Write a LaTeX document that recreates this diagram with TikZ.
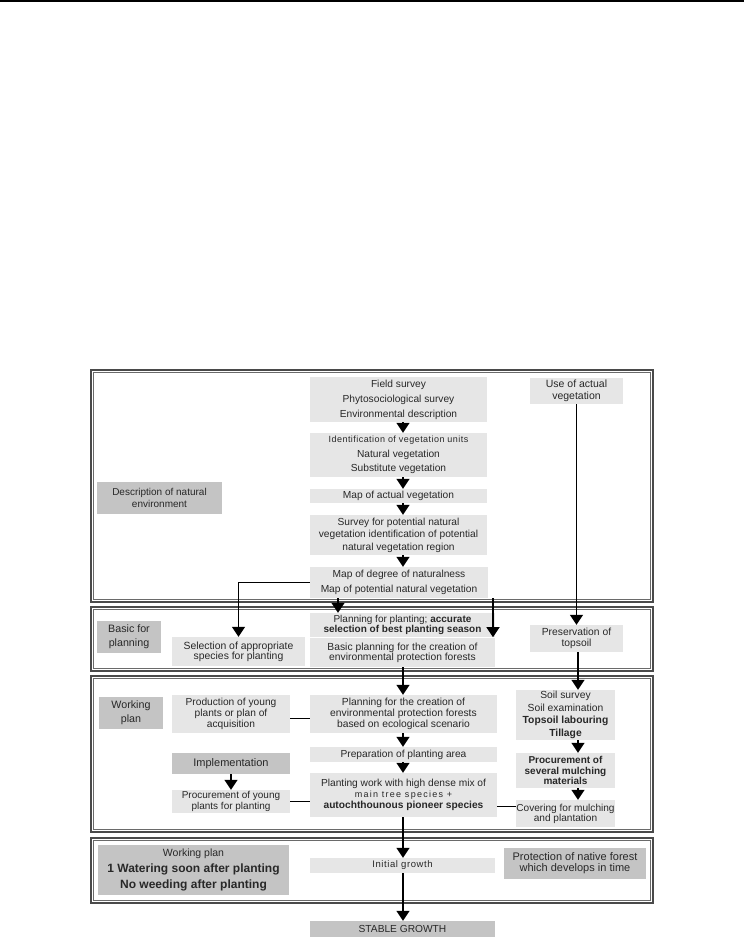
\documentclass[tikz,border=0pt]{standalone}
\usepackage{fontspec}
\setmainfont{Liberation Sans}
\usetikzlibrary{arrows.meta}
\definecolor{lboxc}{HTML}{E6E6E6}
\definecolor{dboxc}{HTML}{C4C4C4}
\definecolor{txt}{HTML}{282828}
\definecolor{framec}{HTML}{4A4A4A}
\definecolor{framei}{HTML}{6A6A6A}
\newcommand\fsz[2]{\fontsize{#1}{#2}\selectfont}
\newcommand\spaced[1]{\addfontfeature{LetterSpace=#1}}
\newcommand\bx[7]{\node[#1, minimum width={#5-#3}, minimum height={#6-#4}] (#2) at ({(#3+#5)/2},{(#4+#6)/2}) {#7};}
\newcommand\panelbox[4]{%
  \draw[panelout] (#1,#2) rectangle (#3,#4);
  \draw[panelin] ({#1+2.6},{#2+2.6}) rectangle ({#3-2.6},{#4-2.6});}
\tikzset{
  box/.style={fill=lboxc, draw=none, inner sep=0pt, align=center, text=txt, font=\fsz{10.2}{12}},
  dbox/.style={box, fill=dboxc},
  arr/.style={line width=1.5pt, -{Triangle[width=13pt,length=10pt]}},
  link/.style={line width=0.8pt},
  panelout/.style={draw=framec, line width=1.5pt},
  panelin/.style={draw=framei, line width=0.8pt},
}
\begin{document}
\begin{tikzpicture}[x=1pt,y=-1pt]
\useasboundingbox (0,0) rectangle (744,937);
\draw[line width=1.5pt] (0,0.75) -- (744,0.75);
% panels
\panelbox{91}{370}{653}{602}
\panelbox{91}{607}{653}{671}
\panelbox{91}{676}{653}{832}
\panelbox{91}{838}{653}{903}
% column coordinates
\coordinate (cx) at (403,0);
\coordinate (cl) at (338,0);
\coordinate (cr) at (493,0);
\coordinate (cs) at (578,0);
% panel 1
\bx{box}{fs}{310}{377}{487}{422}{Field survey\\[3pt]Phytosociological survey\\[3pt]Environmental description}
\bx{box}{id}{310}{433}{487}{477}{{\fsz{9}{12}\spaced{5}Identification of vegetation units}\\[2.5pt]Natural vegetation\\[2.5pt]Substitute vegetation}
\bx{box}{mav}{310}{489}{487}{503}{Map of actual vegetation}
\bx{box, font=\fsz{10.2}{12.5}}{sp}{310}{515}{487}{555}{Survey for potential natural\\vegetation identification of potential\\natural vegetation region}
\bx{box}{md}{310}{567}{488}{598}{Map of degree of naturalness\\[3pt]Map of potential natural vegetation}
\bx{box, font=\fsz{10.5}{11.5}}{use}{530}{378}{623}{404}{Use of actual\\vegetation}
\bx{dbox, font=\fsz{10}{12}}{desc}{97}{482}{222}{514}{Description of natural\\environment}
% panel 2
\bx{dbox, font=\fsz{10.7}{14}}{bfp}{97}{621}{161}{653}{Basic for\\planning}
\bx{box, font=\fsz{10.4}{10}}{sel}{172}{637}{305}{666}{Selection of appropriate\\species for planting}
\bx{box, font=\fsz{10}{9.5}}{pp}{310}{613}{495}{637}{Planning for planting; \textbf{accurate}\\\textbf{selection of best planting season}}
\bx{box, font=\fsz{10.3}{10}}{bp}{310}{638}{495}{667}{Basic planning for the creation of\\environmental protection forests}
\bx{box, font=\fsz{10.3}{11}}{pres}{530}{625}{623}{652}{Preservation of\\topsoil}
% panel 3
\bx{dbox, font=\fsz{10.7}{14}}{wp}{99}{697}{163}{729}{Working\\plan}
\bx{box, font=\fsz{10.2}{11}}{prod}{172}{695}{290}{733}{Production of young\\plants or plan of\\acquisition}
\bx{dbox, font=\fsz{11}{12}}{impl}{172}{753}{290}{774}{Implementation}
\bx{box, font=\fsz{10}{9}}{proc}{172}{790}{290}{813}{Procurement of young\\plants for planting}
\bx{box, font=\fsz{10.3}{11}}{pc}{310}{695}{497}{733}{Planning for the creation of\\environmental protection forests\\based on ecological scenario}
\bx{box}{prep}{310}{747}{497}{762}{Preparation of planting area}
\bx{box, font=\fsz{10.2}{11}}{pw}{310}{773}{497}{817}{Planting work with high dense mix of\\{\fsz{9}{11}\spaced{14}main tree species +}\\\textbf{autochthounous pioneer species}}
\bx{box, font=\fsz{10.3}{12.5}}{soil}{516}{690}{615}{740}{Soil survey\\Soil examination\\\textbf{Topsoil labouring}\\\textbf{Tillage}}
\bx{box, font=\fsz{10}{10.5}}{mulch}{516}{753}{615}{788}{\textbf{Procurement of}\\\textbf{several mulching}\\\textbf{materials}}
\bx{box, font=\fsz{10.1}{10}}{cov}{516}{800}{615}{827}{Covering for mulching\\and plantation}
% panel 4
\bx{dbox, font=\fsz{12}{16}}{wp2}{98}{845}{289}{895}{{\fsz{10.5}{12}Working plan}\\\textbf{1 Watering soon after planting}\\\textbf{No weeding after planting}}
\bx{box, font=\fsz{9.5}{10}}{ig}{310}{858}{495}{873}{\spaced{6}Initial growth}
\bx{dbox, font=\fsz{11}{11}}{prot}{504}{848}{646}{879}{Protection of native forest\\which develops in time}
\bx{dbox, font=\fsz{10.2}{11}}{sg}{310}{921}{495}{937}{STABLE GROWTH}
% connectors
\draw[arr] (fs.south -| cx) -- (id.north -| cx);
\draw[arr] (id.south -| cx) -- (mav.north -| cx);
\draw[arr] (mav.south -| cx) -- (sp.north -| cx);
\draw[arr] (sp.south -| cx) -- (md.north -| cx);
\draw[arr] (md.south -| cl) -- (pp.north -| cl);
\draw[arr] (md.west) -| (sel.north);
\draw[arr] (md.south -| cr) -- (pp.south -| cr);
\draw[arr] (use.south) -- (pres.north);
\draw[arr] (bp.south -| cx) -- (pc.north -| cx);
\draw[arr] (pres.south -| cs) -- (soil.north -| cs);
\draw[arr] (pc.south -| cx) -- (prep.north -| cx);
\draw[arr] (prep.south -| cx) -- (pw.north -| cx);
\draw[link] ([yshift=-4pt]prod.east) -- ([yshift=-4pt]prod.east -| pc.west);
\draw[arr] (impl) -- (proc);
\draw[link] (proc.east) -- (proc.east -| pw.west);
\draw[arr] (soil.south -| cs) -- (mulch.north -| cs);
\draw[arr] (mulch.south -| cs) -- (cov.north -| cs);
\draw[link] ([yshift=7pt]cov.west) -- ([yshift=7pt]cov.west -| pw.east);
\draw[arr] (pw.south -| cx) -- (ig.north -| cx);
\draw[arr] (ig.south -| cx) -- (sg.north -| cx);
\end{tikzpicture}
\end{document}
